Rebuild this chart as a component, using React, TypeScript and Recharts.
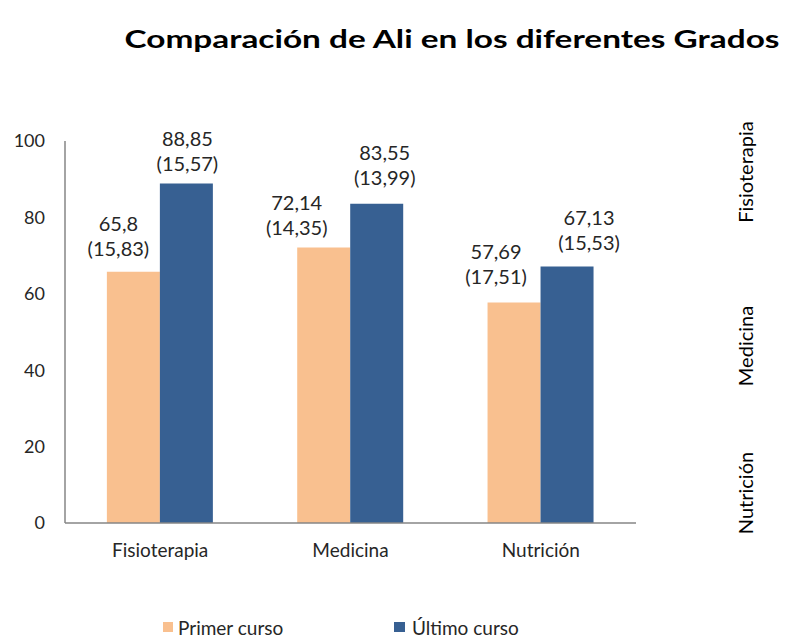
import React from 'react';
import { BarChart, Bar, XAxis, YAxis, LabelList } from 'recharts';

const grados = ['Fisioterapia', 'Medicina', 'Nutrición'];
const primerCurso = [65.8, 72.14, 57.69];
const primerDesv = [15.83, 14.35, 17.51];
const ultimoCurso = [88.85, 83.55, 67.13];
const ultimoDesv = [15.57, 13.99, 15.53];
const yTicks = [0, 20, 40, 60, 80, 100];

// labels were nudged by hand in the original, so keep their offsets here
const primerLabelShift = [[-15, -49], [-27, -45], [-18, -52]];
const ultimoLabelShift = [[1, -46], [8, -52], [22, -50]];

const data = grados.map((g, i) => ({
  grado: g,
  primer: primerCurso[i],
  primerSd: primerDesv[i],
  ultimo: ultimoCurso[i],
  ultimoSd: ultimoDesv[i],
}));

const FONT = 'Lato, "Open Sans", sans-serif';
const PEACH = '#F9C08F';
const BLUE = '#376092';

const fmt = (v: number) => String(v).replace('.', ',');

// two-line label: mean on top, (sd) below
const makeLabel = (sds: number[], shifts: number[][]) => (props: any) => {
  const { x, y, width, value, index } = props;
  const [dx, dy] = shifts[index] || [0, -46];
  const cx = Number(x) + Number(width) / 2 + dx;
  const top = Number(y) + dy;
  return (
    <g>
      <text x={cx} y={top} textAnchor="middle" dominantBaseline="central" fontFamily={FONT} fontSize={20} fill="#262626">
        {fmt(value)}
      </text>
      <text x={cx} y={top + 25} textAnchor="middle" dominantBaseline="central" fontFamily={FONT} fontSize={20} fill="#262626">
        ({fmt(sds[index])})
      </text>
    </g>
  );
};

const App: React.FC = () => {
  return (
    <div style={{ position: 'absolute', left: 0, top: 0, width: 792, height: 639, background: '#fff', overflow: 'hidden' }}>
      <BarChart
        width={792}
        height={639}
        data={data}
        margin={{ top: 141, right: 156, bottom: 86, left: 10 }}
        barCategoryGap="22%"
        barGap={0}
      >
        <XAxis
          dataKey="grado"
          height={30}
          axisLine={{ stroke: '#868686', strokeWidth: 1.5 }}
          tickLine={false}
          tickMargin={15}
          tick={{ fontFamily: FONT, fontSize: 19, fill: '#262626' }}
        />
        <YAxis
          width={55}
          domain={[0, 100]}
          ticks={yTicks}
          axisLine={{ stroke: '#868686', strokeWidth: 1.5 }}
          tickLine={false}
          tickMargin={14}
          tick={{ fontFamily: FONT, fontSize: 18, fill: '#262626' }}
        />
        <Bar dataKey="primer" fill={PEACH} isAnimationActive={false}>
          <LabelList dataKey="primer" content={makeLabel(primerDesv, primerLabelShift)} />
        </Bar>
        <Bar dataKey="ultimo" fill={BLUE} isAnimationActive={false}>
          <LabelList dataKey="ultimo" content={makeLabel(ultimoDesv, ultimoLabelShift)} />
        </Bar>
      </BarChart>
      <svg width={792} height={639} style={{ position: 'absolute', left: 0, top: 0, pointerEvents: 'none' }}>
        <text x={452} y={38} textAnchor="middle" dominantBaseline="central" fontFamily={FONT} fontWeight="bold" fontSize={25} fill="#000" textLength={655} lengthAdjust="spacingAndGlyphs">
          Comparación de Ali en los diferentes Grados
        </text>
        {[172, 346, 493].map((cy, i) => (
          <text key={grados[i]} x={745} y={cy} transform={`rotate(-90 745 ${cy})`} textAnchor="middle" dominantBaseline="central" fontFamily={FONT} fontSize={20} fill="#000">
            {grados[i]}
          </text>
        ))}
        <rect x={163} y={622} width={10} height={10} fill={PEACH} />
        <text x={178} y={627} dominantBaseline="central" fontFamily={FONT} fontSize={19} fill="#262626">Primer curso</text>
        <rect x={394} y={622} width={11} height={10} fill={BLUE} />
        <text x={412} y={627} dominantBaseline="central" fontFamily={FONT} fontSize={19} fill="#262626">Último curso</text>
      </svg>
    </div>
  );
};

export default App;
